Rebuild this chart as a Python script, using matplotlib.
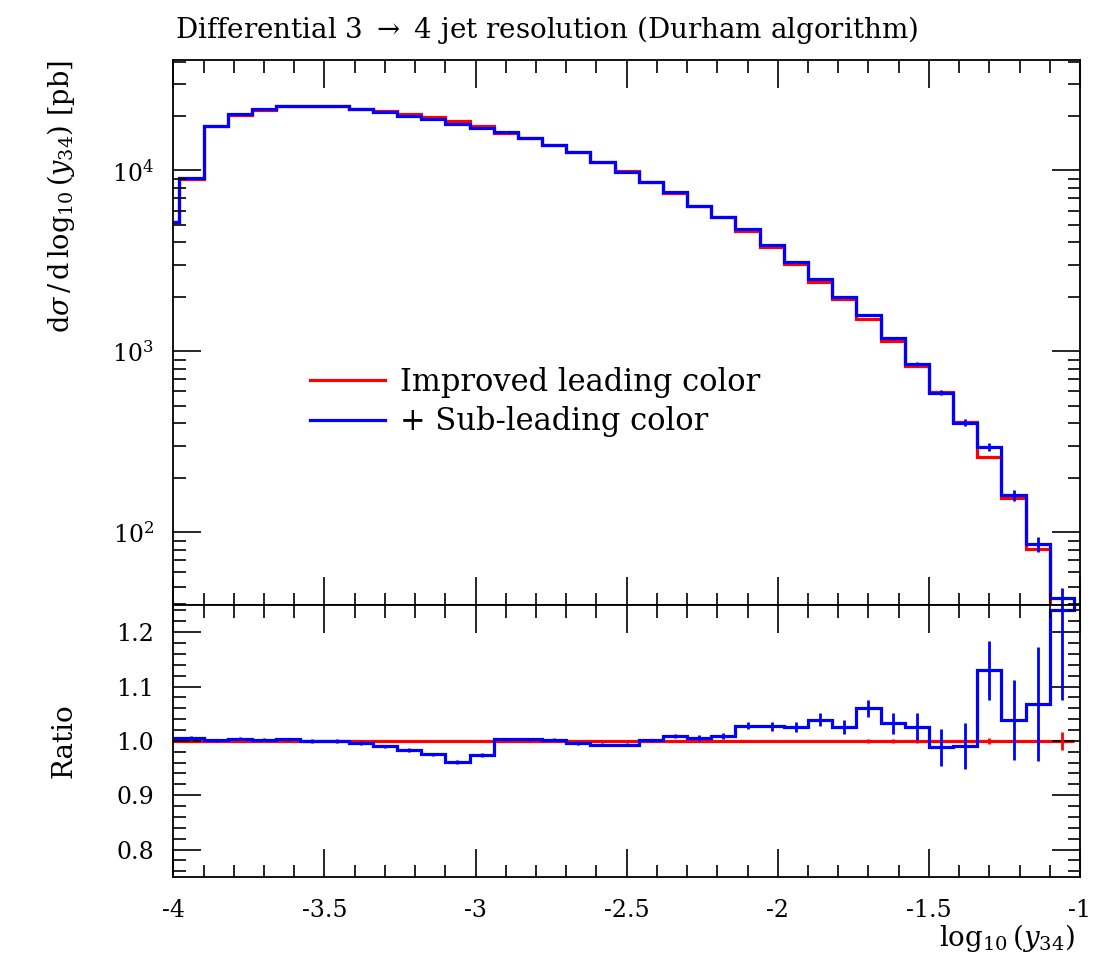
import numpy as np
import matplotlib.pyplot as plt
from matplotlib.ticker import MultipleLocator, LogLocator, NullFormatter, FormatStrFormatter

plt.rcParams['font.family'] = ['DejaVu Serif']
plt.rcParams['mathtext.fontset'] = 'dejavuserif'
plt.rcParams['axes.unicode_minus'] = False

# binning in log10(y34): 0.08 wide bins, first one starts just left of the frame
bin_lo = -4.06
bin_width = 0.08

# improved leading colour, dsigma/dlog10(y34) [pb]
sigma_lc = [5165, 9005, 17600, 20340, 21730, 22720, 22750, 22600, 21860, 21340,
            20440, 19680, 18720, 17560, 16210, 15130, 13800, 12650, 11170, 9920,
            8660, 7510, 6340, 5510, 4606, 3768, 3059, 2418, 1959, 1502,
            1146, 827, 599, 408, 262, 154, 80.5, 35]
err_lc_rel = [0.001] * 29 + [0.003, 0.003, 0.003, 0.003, 0.003, 0.006, 0.004, 0.005, 0.017]

# + sub-leading colour, as ratio to the leading colour
ratio = [1.005, 1.006, 1.001, 1.004, 1.002, 1.003, 1.000, 1.000, 0.996, 0.990,
         0.983, 0.975, 0.961, 0.974, 1.003, 1.003, 1.002, 0.996, 0.993, 0.993,
         1.001, 1.009, 1.005, 1.009, 1.028, 1.027, 1.025, 1.039, 1.026, 1.060,
         1.032, 1.026, 0.988, 0.991, 1.130, 1.038, 1.068, 1.240]
ratio_err = [0.003] * 21 + [0.004, 0.005, 0.006, 0.007, 0.008, 0.009, 0.012, 0.013, 0.016,
                            0.020, 0.025, 0.034, 0.042, 0.054, 0.074, 0.105, 0.165]

xticks = [-4, -3.5, -3, -2.5, -2, -1.5, -1]
xtick_labels = ['-4', '-3.5', '-3', '-2.5', '-2', '-1.5', '-1']

sigma_lc = np.array(sigma_lc, dtype=float)
ratio = np.array(ratio)
ratio_err = np.array(ratio_err)
err_lc_rel = np.array(err_lc_rel)
edges = bin_lo + bin_width * np.arange(len(sigma_lc) + 1)
centers = 0.5 * (edges[1:] + edges[:-1])
sigma_sub = sigma_lc * ratio
err_sub = sigma_lc * ratio_err
err_lc = sigma_lc * err_lc_rel

red = '#ff0000'
blue = '#0000ff'
lw = 2.3

fig = plt.figure(figsize=(10.97, 9.71), dpi=100)
ax = fig.add_axes([0.158, 0.3769, 0.8265, 0.5613])
rax = fig.add_axes([0.158, 0.0971, 0.8265, 0.2798], sharex=ax)

# main panel
ax.stairs(sigma_lc, edges, baseline=1, color=red, lw=lw, label='Improved leading color')
ax.errorbar(centers, sigma_lc, yerr=err_lc, fmt='none', ecolor=red, elinewidth=2)
ax.stairs(sigma_sub, edges, baseline=1, color=blue, lw=lw, label='+ Sub-leading color')
ax.errorbar(centers, sigma_sub, yerr=err_sub, fmt='none', ecolor=blue, elinewidth=2)
ax.set_yscale('log')
ax.set_ylim(39.6, 40800)
ax.set_xlim(-4, -1)
ax.yaxis.set_major_locator(LogLocator(base=10, numticks=10))
ax.yaxis.set_minor_locator(LogLocator(base=10, subs=np.arange(2, 10), numticks=20))
ax.yaxis.set_minor_formatter(NullFormatter())
ax.set_ylabel(r'd$\sigma\,$/$\,$d$\,\log_{10}(y_{34})$ [pb]', fontsize=19.5, loc='top')
ax.yaxis.set_label_coords(-0.106, 1.0)
ax.legend(loc='upper left', bbox_to_anchor=(0.151, 0.437), frameon=False, fontsize=22,
          handlelength=2.45, handletextpad=0.5, labelspacing=0.28, borderpad=0, borderaxespad=0)

# ratio panel
ones = np.ones_like(ratio)
rax.stairs(ones, edges, baseline=None, color=red, lw=lw)
rax.errorbar(centers, ones, yerr=err_lc_rel, fmt='none', ecolor=red, elinewidth=2)
rax.stairs(ratio, edges, baseline=2, color=blue, lw=lw)
rax.errorbar(centers, ratio, yerr=ratio_err, fmt='none', ecolor=blue, elinewidth=2)
rax.set_ylim(0.75, 1.25)
rax.yaxis.set_major_locator(MultipleLocator(0.1))
rax.yaxis.set_minor_locator(MultipleLocator(0.02))
rax.yaxis.set_major_formatter(FormatStrFormatter('%.1f'))
rax.set_ylabel('Ratio', fontsize=20)
rax.yaxis.set_label_coords(-0.106, 0.5)
rax.set_xticks(xticks, labels=xtick_labels)
rax.xaxis.set_minor_locator(MultipleLocator(0.1))
rax.set_xlabel(r'$\log_{10}(y_{34})$', fontsize=20, loc='right')
rax.xaxis.set_label_coords(0.9945, -0.165)

for a in (ax, rax):
    a.tick_params(which='both', direction='in', top=True, right=True, labelsize=17, width=1.2)
    a.tick_params(which='major', length=20, pad=14)
    a.tick_params(which='minor', length=9)
    for s in a.spines.values():
        s.set_linewidth(1.3)
ax.tick_params(labelbottom=False)
rax.tick_params(axis='x', pad=16)

fig.text(175 / 1097, 1 - 30 / 971, r'Differential 3 $\rightarrow$ 4 jet resolution (Durham algorithm)',
         fontsize=20, va='center', ha='left')

fig.savefig('out.png', dpi=100)
